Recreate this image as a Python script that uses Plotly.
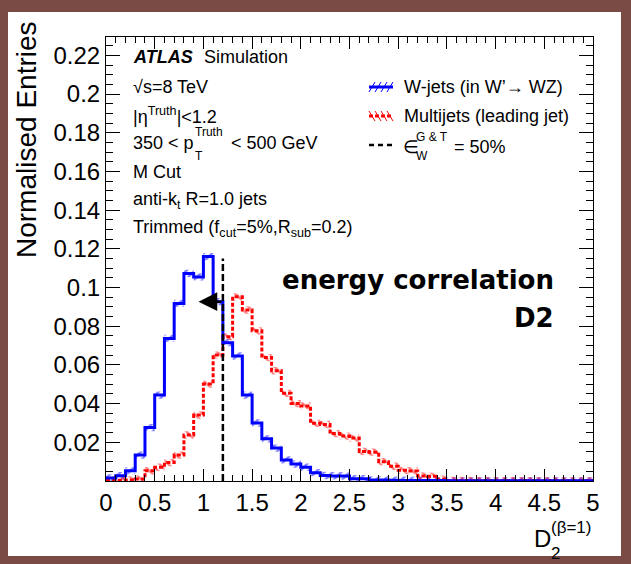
import plotly.graph_objects as go

# ---------------- data ----------------
bin_edges = [round(0.1 * i, 1) for i in range(51)]   # 50 bins of width 0.1 on [0, 5]

wjets = [0.0016, 0.0027, 0.0053, 0.0134, 0.0276, 0.0444, 0.0737, 0.0918, 0.1073, 0.1055,
         0.1160, 0.0927, 0.0715, 0.0646, 0.0444, 0.0300, 0.0218, 0.0170, 0.0109, 0.0088,
         0.0071, 0.0043, 0.0029, 0.0026, 0.0026, 0.0012, 0.0012, 0.0005, 0.0005, 0.0004,
         0.0003, 0.0003, 0.0002, 0.0002, 0.0002, 0.0001, 0.0001, 0.0001, 0.0001, 0.0001,
         0.0001, 0.0001, 0.0001, 0.0001, 0.0001, 0.0001, 0.0001, 0.0001, 0.0001, 0.0001]

multijets = [0.0004, 0.0004, 0.0005, 0.0010, 0.0053, 0.0071, 0.0095, 0.0134, 0.0238, 0.0341,
             0.0501, 0.0651, 0.0746, 0.0952, 0.0884, 0.0776, 0.0638, 0.0570, 0.0453, 0.0400,
             0.0388, 0.0298, 0.0292, 0.0245, 0.0232, 0.0222, 0.0153, 0.0149, 0.0100, 0.0076,
             0.0055, 0.0052, 0.0026, 0.0024, 0.0009, 0.0003, 0.0002, 0.0002, 0.0001, 0.0001,
             0.0001, 0.0001, 0.0001, 0.0001, 0.0001, 0.0001, 0.0001, 0.0001, 0.0001, 0.0001]

wjets_unc = 0.0019       # half-height of hatched uncertainty band
multijets_unc = 0.0019

cut_value = 1.2          # D2 cut for 50% W efficiency
cut_line_top = 0.115
arrow_tip = 0.95
arrow_y = 0.0927

x_tick_vals = [0, 0.5, 1, 1.5, 2, 2.5, 3, 3.5, 4, 4.5, 5]
x_tick_text = ["0", "0.5", "1", "1.5", "2", "2.5", "3", "3.5", "4", "4.5", "5"]
y_tick_vals = [0.02, 0.04, 0.06, 0.08, 0.10, 0.12, 0.14, 0.16, 0.18, 0.20, 0.22]
y_tick_text = ["0.02", "0.04", "0.06", "0.08", "0.1", "0.12", "0.14", "0.16", "0.18", "0.2", "0.22"]

# ---------------- layout geometry (pixels) ----------------
W_PX, H_PX = 631, 564
L, R, T, B = 106, 593, 37, 481
FONT = "Liberation Sans, Arial, Helvetica, sans-serif"
BROWN = "#7a4b45"


def px(x):
    return (x - L) / (R - L)


def py(y):
    return (B - y) / (B - T)


def step_xy(edges, vals):
    return list(edges), list(vals) + [vals[-1]]


def band_xy(edges, vals, unc):
    xs, ys = [], []
    for i, v in enumerate(vals):
        xs += [edges[i], edges[i + 1]]
        ys += [v + unc, v + unc]
    for i in range(len(vals) - 1, -1, -1):
        v = max(vals[i] - unc, 0)
        xs += [edges[i + 1], edges[i]]
        ys += [v, v]
    xs.append(xs[0])
    ys.append(ys[0])
    return xs, ys


fig = go.Figure()

# hatched uncertainty bands
for vals, unc, col, shp in [(wjets, wjets_unc, "blue", "/"), (multijets, multijets_unc, "red", "\\")]:
    bx, by = band_xy(bin_edges, vals, unc)
    fig.add_trace(go.Scatter(x=bx, y=by, mode="lines", fill="toself",
                             fillcolor="rgba(0,0,0,0)",
                             fillpattern=dict(shape=shp, fgcolor=col, bgcolor="rgba(0,0,0,0)",
                                              size=6, solidity=0.4),
                             line=dict(width=0), hoverinfo="skip", showlegend=False))

# histograms
mx, my = step_xy(bin_edges, multijets)
fig.add_trace(go.Scatter(x=mx, y=my, mode="lines", line_shape="hv",
                         line=dict(color="red", width=3, dash="4px,2px"),
                         name="Multijets (leading jet)", showlegend=False))
wx, wy = step_xy(bin_edges, wjets)
fig.add_trace(go.Scatter(x=wx, y=wy, mode="lines", line_shape="hv",
                         line=dict(color="blue", width=3),
                         name="W-jets (in W'→ WZ)", showlegend=False))

# cut line
fig.add_trace(go.Scatter(x=[cut_value, cut_value], y=[0, cut_line_top], mode="lines",
                         line=dict(color="black", width=2.5, dash="7px,3px"),
                         showlegend=False, hoverinfo="skip"))

annotations = []


def ann(text, x, y, size, xanchor="left", yanchor="middle", family=FONT, **kw):
    annotations.append(dict(text=text, x=px(x), y=py(y), xref="paper", yref="paper",
                            xanchor=xanchor, yanchor=yanchor, showarrow=False,
                            font=dict(size=size, family=family, color="black"), **kw))


# arrow
annotations.append(dict(x=arrow_tip, y=arrow_y, ax=cut_value, ay=arrow_y, xref="x", yref="y",
                        axref="x", ayref="y", showarrow=True, arrowhead=2, arrowsize=1.5,
                        arrowwidth=2.5, arrowcolor="black", text=""))

# ATLAS labels
ann("<b><i>ATLAS</i></b>", 131, 56.5, 18)
ann("Simulation", 202, 56.5, 18)
ann("√s=8 TeV", 131, 86.5, 18)
ann("|η<sup>Truth</sup>|<1.2", 131, 115.5, 18)
ann("350 < p", 131, 143, 18)
ann("Truth", 193, 132, 12)
ann("T", 193, 156, 12)
ann("< 500 GeV", 229, 143, 18)
ann("M Cut", 131, 172, 18)
ann("anti-k<sub>t</sub> R=1.0 jets", 131, 200, 18)
ann("Trimmed (f<sub>cut</sub>=5%,R<sub>sub</sub>=0.2)", 131, 228.5, 18)

# legend texts
ann("W-jets (in W’→ WZ)", 402, 87, 18)
ann("Multijets (leading jet)", 402, 116, 18)
ann("∈", 401, 147, 18)
ann("G & T", 414, 137, 12)
ann("W", 414, 156, 12)
ann("= 50%", 452, 147, 18)

# energy correlation label
ann("<b>energy correlation</b>", 556, 280, 26, xanchor="right", family="DejaVu Sans, Verdana, sans-serif")
ann("<b>D2</b>", 556, 318, 26, xanchor="right", family="DejaVu Sans, Verdana, sans-serif")

# axis titles
ann("D", 532, 538, 24)
ann("(β=1)", 549, 527, 17)
ann("2", 549, 553, 17)
ann("Normalised Entries", 26, 140, 28, xanchor="center", textangle=-90)

shapes = []
# white panel on brown frame
shapes.append(dict(type="rect", xref="paper", yref="paper", layer="below",
                   x0=px(8), x1=px(621), y0=py(12), y1=py(556),
                   fillcolor="white", line=dict(width=0)))


def seg(x0, y0, x1, y1, color, width, dash="solid"):
    shapes.append(dict(type="line", xref="paper", yref="paper",
                       x0=px(x0), y0=py(y0), x1=px(x1), y1=py(y1),
                       line=dict(color=color, width=width, dash=dash)))


# legend symbols
seg(369, 87, 393, 87, "blue", 3)
for k in range(4):
    x0 = 369 + 6 * k
    seg(x0, 92, x0 + 6, 82, "blue", 1)
seg(369, 116, 393, 116, "red", 3, "4px,2px")
for k in range(4):
    x0 = 369 + 6 * k
    seg(x0, 111, x0 + 6, 121, "red", 1)
seg(369, 145, 393, 145, "black", 2.5, "5px,4px")

fig.update_layout(
    width=W_PX, height=H_PX,
    margin=dict(l=L, r=W_PX - R, t=T, b=H_PX - B, pad=0),
    paper_bgcolor=BROWN, plot_bgcolor="white",
    showlegend=False,
    annotations=annotations, shapes=shapes,
    xaxis=dict(range=[0, 5], tickmode="array", tickvals=x_tick_vals, ticktext=x_tick_text,
               ticks="inside", ticklen=12, tickwidth=1, tickcolor="black",
               showline=True, linecolor="black", linewidth=1, mirror="ticks",
               showgrid=False, zeroline=False,
               tickfont=dict(size=24, family=FONT, color="black"),
               minor=dict(tickmode="linear", tick0=0, dtick=0.1, ticks="inside",
                          ticklen=6, tickcolor="black", tickwidth=1, showgrid=False)),
    yaxis=dict(range=[0, 0.2295], tickmode="array", tickvals=y_tick_vals, ticktext=y_tick_text,
               ticks="inside", ticklen=14, tickwidth=1, tickcolor="black",
               showline=True, linecolor="black", linewidth=1, mirror="ticks",
               showgrid=False, zeroline=False,
               tickfont=dict(size=24, family=FONT, color="black"),
               minor=dict(tickmode="linear", tick0=0, dtick=0.005, ticks="inside",
                          ticklen=7, tickcolor="black", tickwidth=1, showgrid=False)),
)

fig.write_html("out.html")
